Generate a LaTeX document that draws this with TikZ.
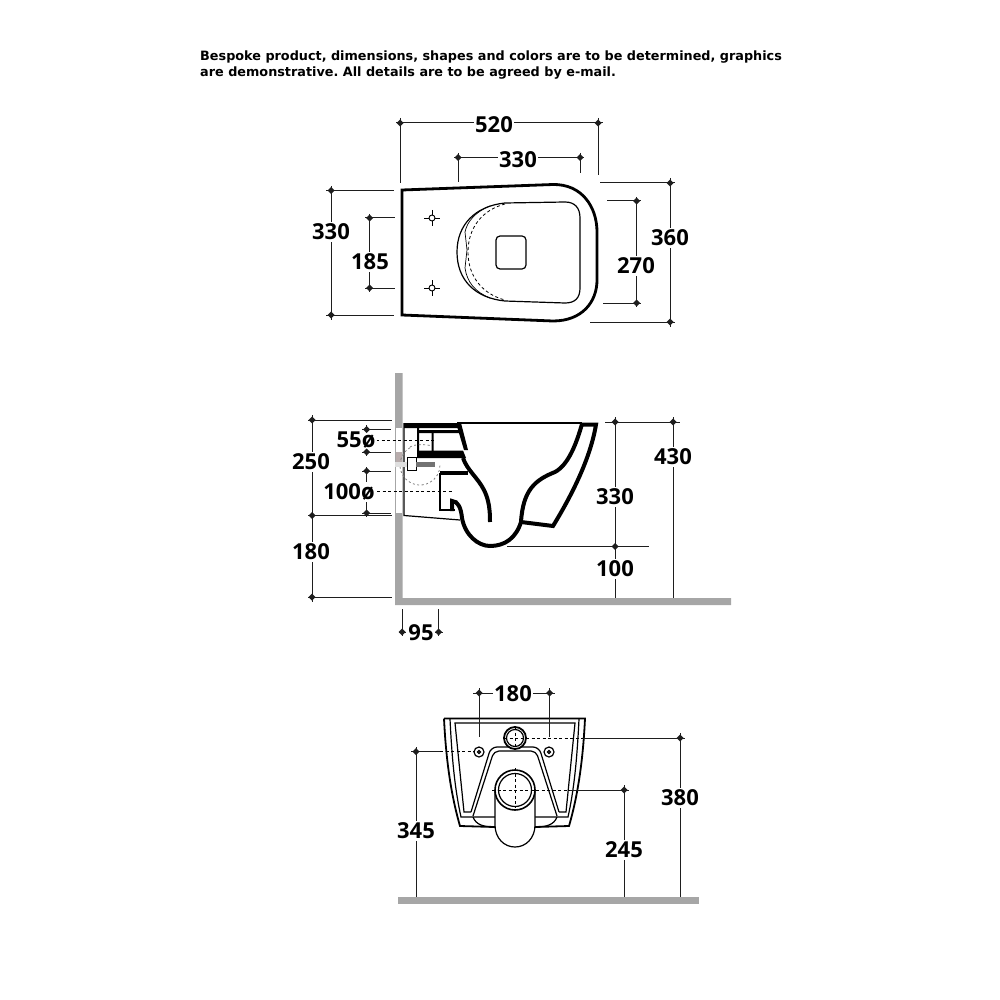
\documentclass[tikz,border=0pt]{standalone}
\usepackage{fontspec}
\newfontfamily\notefont{DejaVu Sans Bold}
\newfontfamily\dimfont{Open Sans}
\definecolor{wallgray}{HTML}{A6A6A6}
\definecolor{dimblack}{HTML}{1E1E1E}
\definecolor{washer}{HTML}{B8ACAC}
\tikzset{
  dimline/.style={draw=dimblack, line width=1pt},
  dimlabel/.style={fill=white, inner sep=1.5pt, yshift=-1pt, font=\dimfont\bfseries\fontsize{22}{22}\selectfont, text=black},
  hidden/.style={line width=0.8pt, dash pattern=on 3pt off 2.5pt},
  heavy/.style={line width=4pt},
  outline/.style={line width=1.2pt}
}
\newcommand{\dimdot}[1]{\fill[dimblack] (#1) +(-3.5,0) -- +(0,-3.5) -- +(3.5,0) -- +(0,3.5) -- cycle;}
\frenchspacing
\begin{document}
\begin{tikzpicture}[x=1pt,y=-1pt]
\useasboundingbox (0,0) rectangle (1000,1000);
% note
\node[anchor=north west, inner sep=0pt, align=left, font=\notefont\fontsize{12.8}{16}\selectfont] (note) at (200,50.5)
  {Bespoke product, dimensions, shapes and colors are to be determined, graphics\\are demonstrative. All details are to be agreed by e-mail.};
% top view
\draw[line width=2.8pt, line join=miter] (402,190) -- (553,184.5) .. controls (582,184) and (597,207) .. (597,232) -- (597,280) .. controls (597,302) and (582,321) .. (553,321) -- (402,315) -- cycle;
\draw[outline] (505,203) -- (565,202) .. controls (575,202) and (580,208) .. (580,218) -- (580,288) .. controls (580,298) and (575,303) .. (565,303) -- (505,301) .. controls (475,298) and (457,280) .. (457,252) .. controls (457,225) and (475,206) .. (505,203);
\draw[hidden] (505,204) .. controls (482,210) and (468,228) .. (468,252) .. controls (468,276) and (482,294) .. (505,300);
\draw[line width=0.7pt] (490,206) .. controls (475,212) and (467,222) .. (465,232) -- (467,250) -- (465,268) .. controls (467,282) and (475,292) .. (490,298);
\draw[outline, rounded corners=4pt] (496,236) rectangle (526,269);
\foreach \y in {218,288} {
  \draw[line width=0.9pt] (424,\y) -- (440,\y) (432,\y-8) -- (432,\y+8);
  \draw[line width=0.9pt, fill=white] (432,\y) circle (3);
}
\draw[dimline] (396,123) -- (603,123) (400,118) -- (400,183) (598,118) -- (598,175);
\draw[dimline] (454,157.5) -- (584,157.5) (458,153) -- (458,182) (580,153) -- (580,173);
\draw[dimline] (326,190.5) -- (394,190.5) (326,315) -- (394,315) (331,186) -- (331,320);
\draw[dimline] (365,218) -- (395,218) (365,288) -- (395,288) (369.5,214) -- (369.5,292);
\draw[dimline] (607,201) -- (641,201) (603,303) -- (641,303) (636.5,197) -- (636.5,307);
\draw[dimline] (600,183) -- (675,183) (590,322) -- (675,322) (670,178) -- (670,327);
\foreach \p in {400/123,598/123,458/157.5,580/157.5,331/190.5,331/315,369.5/218,369.5/288,636.5/201,636.5/303,670/183,670/322}
  \foreach \a/\b in \p { \dimdot{\a,\b} }
\node[dimlabel] (lenA) at (494,124) {520};
\node[dimlabel] (lenB) at (518,159) {330};
\node[dimlabel] (widA) at (331,231) {330};
\node[dimlabel] (widB) at (370,261) {185};
\node[dimlabel] (widC) at (636,265) {270};
\node[dimlabel] (widD) at (670,237) {360};
% side view
\fill[wallgray] (395,373) rectangle (402.5,605) (395,598) rectangle (731,605);
\fill[white] (396,428) rectangle (401.5,513);
\fill[washer] (396,452) rectangle (401.5,462);
\draw[outline] (404,423) -- (404,515.5) -- (460,520);
\draw[outline] (457,423) -- (582,423);
\fill (404,423) -- (457,423) -- (459,428) -- (404,428) -- cycle;
\fill (417,430) -- (459,430) -- (460,433) -- (417,433) -- cycle;
\fill (417,428) rectangle (419,451) (431.5,432) rectangle (433.5,451);
\fill (417,450.5) -- (463,450.5) -- (466,458) -- (417,458) -- cycle;
\fill (456,423) -- (461,423) -- (468,450) -- (464,450) -- cycle;
\draw[gray, hidden, dash pattern=on 2pt off 2.5pt] (410,447.7) arc (240:0:20) (410,447) .. controls (415,444) and (425,444) .. (432,446);
\draw[heavy] (463,458) .. controls (467,470) and (478,478) .. (484,490) .. controls (489,500) and (490,510) .. (490,522);
\draw[heavy] (440,473) -- (468,473);
\draw[line width=2.6pt] (440,473) -- (440,510) -- (455,510);
\draw[heavy] (452,511) -- (452,501) .. controls (458,501) and (461,508) .. (462,518) .. controls (465,535) and (478,546) .. (490,546) .. controls (505,546) and (516,538) .. (521,522);
\draw[heavy] (582,424) .. controls (576,445) and (568,465) .. (555,472) .. controls (535,480) and (523,490) .. (521,522);
\draw[heavy] (582,424.5) -- (596,424.5) .. controls (591,455) and (575,490) .. (553,526) -- (521,522);
\draw[draw=black, fill=white, line width=0.8pt] (407,457) rectangle (416,470);
\fill[gray!90!black] (416,462) rectangle (435,467);
\fill[gray!25] (395,462) rectangle (407,467);
\draw[dimline] (308,420) -- (392,420) (308,515.5) -- (392,515.5) (308,597) -- (392,597) (312,415) -- (312,602);
\draw[dimline] (362,429.5) -- (391,429.5) (362,452) -- (391,452) (366.5,425) -- (366.5,456);
\draw[dimline] (362,471) -- (391,471) (362,513) -- (391,513) (366.5,467) -- (366.5,517);
\draw[hidden] (376,440.5) -- (435,440.5) (377,491.5) -- (452,491.5);
\draw[dimline] (605,422) -- (680,422) (507,546.5) -- (649,546.5) (615,417) -- (615,598) (673,417) -- (673,598);
\draw[dimline] (399,632) -- (406,632) (435,632) -- (443,632) (402,609) -- (402,636) (438.5,609) -- (438.5,636);
\node[dimlabel] (hgtA) at (311,461) {250};
\node[dimlabel] (hgtB) at (311,551) {180};
\node[dimlabel] (pipeA) at (356,439) {55ø};
\node[dimlabel] (pipeB) at (349,491) {100ø};
\node[dimlabel] (hgtC) at (615,496) {330};
\node[dimlabel] (hgtD) at (673,456) {430};
\node[dimlabel] (hgtE) at (615,568) {100};
\node[dimlabel, fill=none] (gapA) at (421,632) {95};
\foreach \p in {312/420,312/515.5,312/597,366.5/429.5,366.5/452,366.5/471,366.5/513,615/422,673/422,615/546.5,402/632,438.5/632}
  \foreach \a/\b in \p { \dimdot{\a,\b} }
% rear view
\fill[wallgray] (398,897) rectangle (699,904);
\draw[line width=1.8pt] (444,718.5) -- (585,718.5) .. controls (583,760) and (578,795) .. (569,826) -- (535,827);
\draw[line width=1.8pt] (444,718.5) .. controls (446,760) and (451,795) .. (460,826) -- (495,827);
\draw[outline] (450,719) .. controls (452,760) and (455,790) .. (461,817) -- (495,817);
\draw[outline] (579,719) .. controls (577,760) and (574,790) .. (568,817) -- (535,817);
\draw[outline] (471,812) -- (464,812) -- (455,723) -- (575,723) -- (566,812) -- (559,812);
\draw[outline, rounded corners=6pt] (471,812) -- (491,747) -- (539,747) -- (559,812);
\draw[outline, rounded corners=5pt] (473,816) -- (494,751) -- (536,751) -- (557,816);
\draw[outline] (473,817) .. controls (476,825) and (484,827) .. (495,827);
\draw[outline] (557,817) .. controls (554,825) and (546,827) .. (535,827);
\fill[white] (515,790) circle (20);
\draw[fill=white, outline] (495,790) -- (495,825) .. controls (495,838) and (504,847) .. (515,847) .. controls (526,847) and (535,838) .. (535,825) -- (535,790);
\draw[line width=1.6pt, fill=white] (515,790) circle (20);
\draw[outline] (515,790) circle (16.5);
\draw[fill=white, line width=1.8pt] (515,738) circle (11);
\draw[outline] (515,738) circle (8.5);
\draw[outline] (479,752) circle (5) (549,752) circle (5);
\draw[outline] (479,752) circle (1.5) (549,752) circle (1.5);
\draw[hidden] (515,727) -- (515,749) (504,738) -- (583,738);
\draw[hidden] (515,768) -- (515,808) (492,790) -- (570,790);
\draw[hidden] (440,751.5) -- (475,751.5);
\draw[dimline] (473,693) -- (555,693) (479,688) -- (479,737) (549.5,688) -- (549.5,737);
\draw[dimline] (583,738) -- (685,738) (680,733) -- (680,897);
\draw[dimline] (411,751.5) -- (440,751.5) (416,747) -- (416,897);
\draw[dimline] (570,790) -- (629,790) (624,785) -- (624,897);
\foreach \p in {479/693,549.5/693,680/738,416/751.5,624/790}
  \foreach \a/\b in \p { \dimdot{\a,\b} }
\node[dimlabel] (spanA) at (513,693) {180};
\node[dimlabel] (levA) at (680,797) {380};
\node[dimlabel] (levB) at (416,830) {345};
\node[dimlabel] (levC) at (624,849) {245};
\end{tikzpicture}
\end{document}
